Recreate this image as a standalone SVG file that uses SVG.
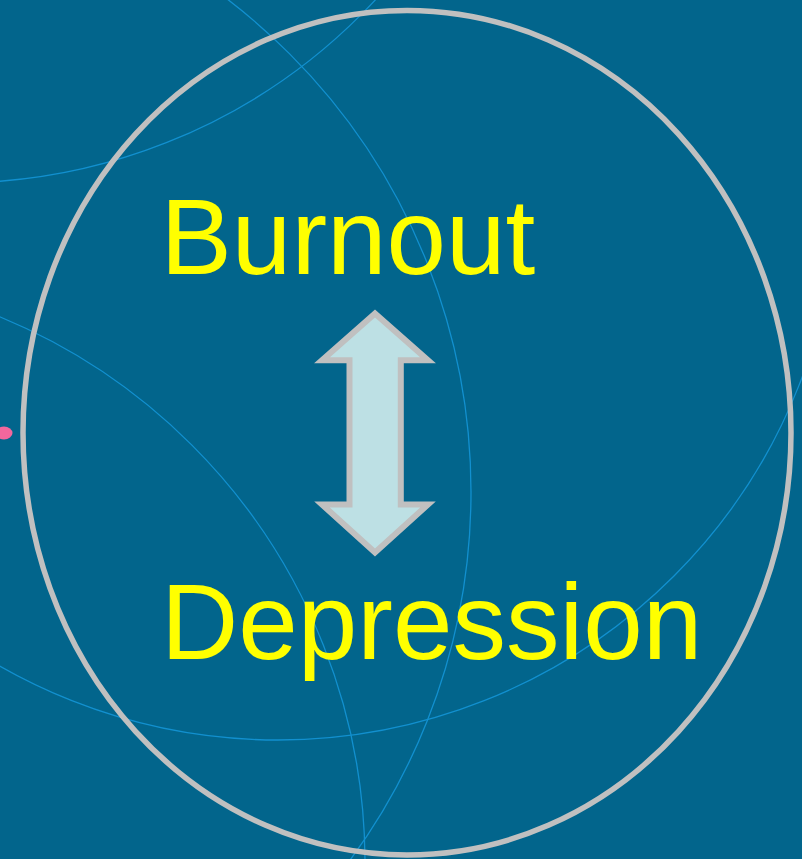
<svg xmlns="http://www.w3.org/2000/svg" width="802" height="859" viewBox="0 0 802 859">
  <style>
    .bg-arc { fill: none; stroke: #1290cf; stroke-width: 1.3; }
    .label { font-family: "Liberation Sans", Arial, sans-serif; font-size: 107px; fill: #ffff00; }
    .ring { fill: none; stroke: #c0c0c0; stroke-width: 5.5; }
    .arrow { fill: #bde0e4; stroke: #c0c0c0; stroke-width: 6; stroke-linejoin: miter; }
  </style>
  <rect x="0" y="0" width="802" height="859" fill="#02658c"/>
  <g id="background-arcs">
    <circle class="bg-arc" cx="-45" cy="-391" r="574"/>
    <circle class="bg-arc" cx="-149" cy="492" r="620"/>
    <circle class="bg-arc" cx="278" cy="180" r="560"/>
    <circle class="bg-arc" cx="-226" cy="863" r="591"/>
  </g>
  <ellipse id="pink-dot" cx="4" cy="433" rx="8.5" ry="6.5" fill="#f2679d"/>
  <g id="circle-node">
    <ellipse class="ring" cx="407" cy="432.7" rx="384" ry="422.3"/>
  </g>
  <g id="connectors">
    <path id="double-arrow" class="arrow" d="M375,313.5 L428,360.3 L400.8,360.3 L400.8,504.5 L428,504.5 L375,552.5 L322,504.5 L349.5,504.5 L349.5,360.3 L322,360.3 Z"/>
  </g>
  <g id="node-burnout">
    <text class="label" x="160.5" y="274">Burnout</text>
  </g>
  <g id="node-depression">
    <text class="label" x="161" y="659.3">Depression</text>
  </g>
</svg>
